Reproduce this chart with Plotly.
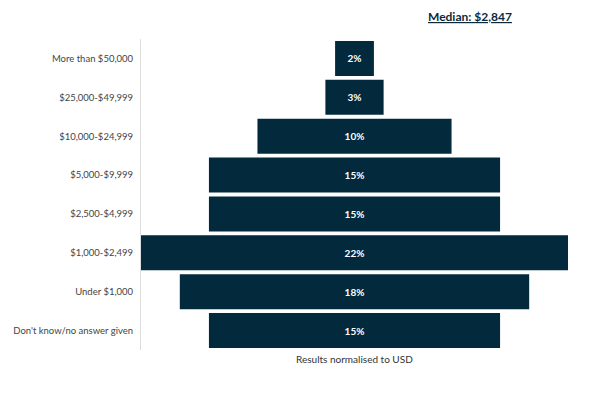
import plotly.graph_objects as go

categories = ["More than $50,000", "$25,000-$49,999", "$10,000-$24,999", "$5,000-$9,999",
              "$2,500-$4,999", "$1,000-$2,499", "Under $1,000", "Don't know/no answer given"]
values = [2, 3, 10, 15, 15, 22, 18, 15]
labels = [f"{v}%" for v in values]
median_text = "Median: $2,847"
axis_title = "Results normalised to USD"

bar_color = "#022a3c"

# page body adds an 8px offset; positions below are in figure coordinates
W, H = 597, 394
L, R, T, B = 133, 37, 30.5, 51.5
plot_w = W - L - R
plot_h = H - T - B
OFF = 8

fig = go.Figure(go.Bar(
    y=categories,
    x=values,
    base=[-v / 2 for v in values],
    orientation="h",
    marker=dict(color=bar_color, line=dict(width=0)),
    text=labels,
    textposition="inside",
    insidetextanchor="middle",
    textfont=dict(color="white", size=10, family="Lato"),
    texttemplate="<b>%{text}</b>",
    hoverinfo="skip",
))

fig.update_layout(
    width=W, height=H,
    margin=dict(l=L, r=R, t=T, b=B),
    paper_bgcolor="white", plot_bgcolor="white",
    bargap=0.1,
    showlegend=False,
    font=dict(family="Lato", color="#444"),
    annotations=[
        dict(text=f"<b><u>{median_text}</u></b>",
             x=(514 - OFF - L) / plot_w, y=1 + (T - (16 - OFF)) / plot_h,
             xref="paper", yref="paper",
             showarrow=False, xanchor="right", yanchor="middle",
             font=dict(size=12, color="#0b2a3c", family="Lato")),
        dict(text=axis_title,
             x=0.5, y=-((360 - OFF) - (H - B)) / plot_h,
             xref="paper", yref="paper",
             showarrow=False, xanchor="center", yanchor="middle",
             font=dict(size=10, color="#333", family="Lato")),
    ],
)

fig.update_xaxes(range=[-11, 11], showgrid=False, zeroline=False, showticklabels=False,
                 automargin=False)
fig.update_yaxes(autorange="reversed", showgrid=False, zeroline=False, showline=True,
                 linecolor="#dddddd", linewidth=1, ticks="", ticklabelstandoff=5,
                 automargin=False,
                 tickfont=dict(size=9.5, color="#444", family="Lato"))

fig.write_html("out.html")
